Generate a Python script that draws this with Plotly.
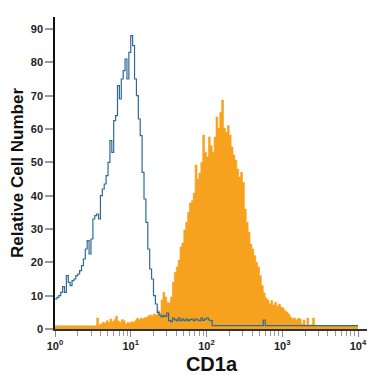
import plotly.graph_objects as go

# Histogram channels: 160 bins, each 0.025 decade wide, from 10^0 to 10^4
N_BINS = 160
BIN_LOG_WIDTH = 0.025

# Isotype control (blue outline)
isotype = [
    9, 9.5, 10, 11, 12.7, 11, 16, 14, 13, 14.5,
    15, 16, 16.5, 17.5, 19, 21, 24, 26.5, 22.5, 27,
    33, 34, 34.5, 33, 40, 42, 43.5, 46, 50, 56.5,
    53, 62.5, 64, 73, 69, 75, 77.5, 81, 75, 83,
    88, 85, 75, 70, 63, 58, 47, 39, 32, 24,
    18, 15, 10, 7.5, 5, 4.2, 3.6, 4, 3.8, 4.8,
    2.5, 2.2, 3.3, 2.8, 2.5, 3.3, 2.5, 3, 2.5, 3,
    2.5, 2.8, 3, 2.5, 3, 2.7, 2.5, 3.3, 2.6, 3,
    3.3, 2.7, 2.5, 1, 1, 1, 1, 1, 1, 1,
    1, 1, 1, 1, 1, 1, 1, 1, 1, 1,
    1, 1, 1, 1, 1, 1, 1, 1, 1, 1,
    2.7, 1, 1, 1, 1, 1, 1, 1, 1, 1,
    1, 1, 1, 1, 1, 1, 1, 1, 1, 1,
    1, 1, 1, 1, 1, 1, 1, 1, 1, 1,
    1, 1, 1, 1, 1, 1, 1, 1, 1, 1,
    1, 1, 1, 1, 1, 1, 1, 1, 1, 1,
]

# CD1a stained cells (orange filled)
cd1a = [
    1, 1, 1, 1, 1, 1, 1, 1, 1, 1,
    1, 1, 1, 1, 1, 1, 1, 1, 1, 1,
    1, 1, 3.3, 1.2, 1.5, 2, 1.8, 2.5, 2, 3,
    2.2, 2.8, 3.8, 2.4, 2, 2.8, 2.5, 1.5, 2, 1.8,
    2.2, 2, 2.5, 3.2, 2.8, 3.3, 3, 3.4, 3.5, 4,
    4.2, 4, 4.5, 4.2, 5.5, 4.8, 8.7, 11, 9.6, 8,
    7.8, 9.6, 14, 17, 18.6, 20.7, 24.6, 25.8, 29.7, 32,
    35, 37.8, 38.5, 40.8, 49.2, 45, 46.8, 50, 58.2, 53,
    51.6, 57.6, 55, 53, 57.6, 63.6, 60.3, 65, 68.7, 60.3,
    59, 61, 58.2, 54.6, 52.2, 50.7, 48, 45.6, 47, 44,
    36, 32, 29, 25.5, 24, 22, 20, 18.6, 16, 13,
    10.8, 9.3, 8.7, 7.5, 8.5, 7.2, 8, 6.8, 7.5, 6.6,
    6.3, 5.5, 5.1, 4.5, 3.6, 3, 3.3, 2.7, 3.2, 3,
    1.5, 2.7, 1.2, 3.3, 1.2, 1.3, 3.3, 1.2, 1, 1,
    1, 1, 1, 1, 1, 1, 1, 1, 1, 1,
    1, 1, 1, 1, 1, 1, 1, 1, 1, 1,
]

y_ticks = [0, 10, 20, 30, 40, 50, 60, 70, 80, 90]
x_tick_vals = [1, 10, 100, 1000, 10000]
x_tick_text = ["10<sup>0</sup>", "10<sup>1</sup>", "10<sup>2</sup>", "10<sup>3</sup>", "10<sup>4</sup>"]
x_minor_vals = [m * d for d in (1, 10, 100, 1000) for m in range(2, 10)]

edges = [10 ** (BIN_LOG_WIDTH * i) for i in range(N_BINS + 1)]

fig = go.Figure()
fig.add_trace(go.Scatter(
    x=edges, y=cd1a + [cd1a[-1]], mode="lines", line_shape="hv",
    line=dict(color="#F7A21E", width=0.6), fill="tozeroy", fillcolor="#F7A21E",
    hoverinfo="skip",
))
fig.add_trace(go.Scatter(
    x=edges, y=isotype + [isotype[-1]], mode="lines", line_shape="hv",
    line=dict(color="#2F6A97", width=1.2),
    hoverinfo="skip",
))

tick_font = dict(family="Liberation Sans, Arial, sans-serif", size=11, color="#222", weight="bold")

# The page body adds an 8px margin, so the figure is 367px and margins are offset.
fig.update_layout(
    width=367, height=367,
    margin=dict(l=47, r=7, t=9, b=46),
    paper_bgcolor="white", plot_bgcolor="white",
    showlegend=False,
    xaxis=dict(
        type="log", range=[0, 4.132], automargin=False,
        tickmode="array", tickvals=x_tick_vals, ticktext=x_tick_text,
        ticks="outside", ticklen=6, tickcolor="#888", tickwidth=1,
        minor=dict(tickmode="array", tickvals=x_minor_vals, ticks="outside",
                   ticklen=5, tickcolor="#999", tickwidth=1, showgrid=False),
        showline=True, linecolor="#333", linewidth=1.5,
        showgrid=False, zeroline=False,
        tickfont=tick_font,
        title=dict(text="CD1a",
                   font=dict(family="Liberation Sans, Arial, sans-serif", size=20, color="#111", weight="bold")),
    ),
    yaxis=dict(
        range=[0, 93.6], automargin=False,
        tickmode="array", tickvals=y_ticks,
        ticks="outside", ticklen=8, tickcolor="#999", tickwidth=1.5,
        showline=True, linecolor="#111", linewidth=1.5,
        showgrid=False, zeroline=False,
        tickfont=tick_font,
        title=dict(text="Relative Cell Number",
                   font=dict(family="Liberation Sans, Arial, sans-serif", size=17, color="#111", weight="bold")),
    ),
)

fig.write_html("out.html")
